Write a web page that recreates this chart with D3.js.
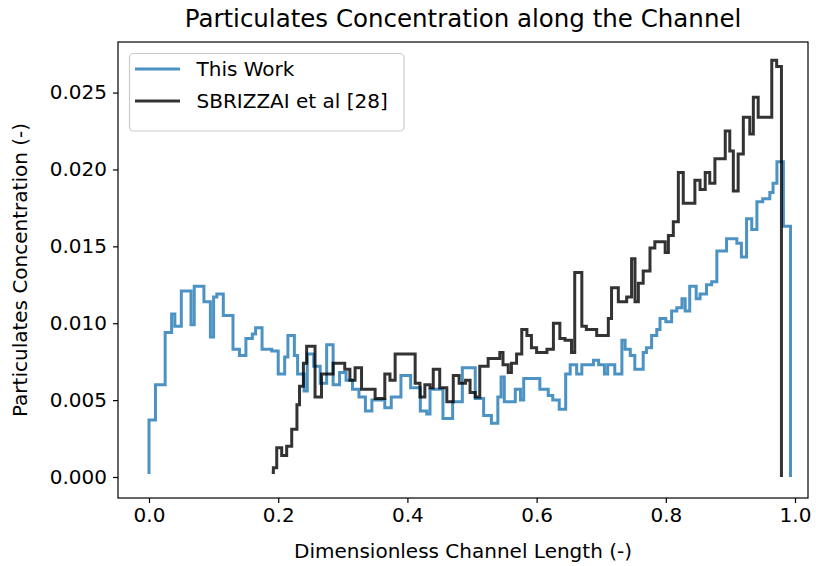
<!DOCTYPE html>
<html>
<head>
<meta charset="utf-8">
<script src="https://cdn.jsdelivr.net/npm/d3@7"></script>
<style>
  html, body { margin: 0; padding: 0; background: #fff; }
  svg text { font-family: "DejaVu Sans", sans-serif; fill: #000; }
</style>
</head>
<body>
<svg id="chart" width="816" height="566"></svg>
<script>
// Step profiles: each point starts a step that holds until the next x.
const thisWorkX = [0, 0, 0.010, 0.025, 0.035, 0.040, 0.050, 0.065, 0.070, 0.085, 0.095, 0.100, 0.105, 0.115,
  0.130, 0.140, 0.150, 0.160, 0.165, 0.175, 0.190, 0.200, 0.210, 0.215, 0.225, 0.230, 0.240, 0.245,
  0.255, 0.265, 0.275, 0.285, 0.295, 0.305, 0.315, 0.325, 0.335, 0.345, 0.365, 0.375, 0.390, 0.405,
  0.420, 0.430, 0.435, 0.455, 0.470, 0.485, 0.505, 0.518, 0.530, 0.540, 0.545, 0.550, 0.567, 0.575,
  0.580, 0.605, 0.618, 0.625, 0.635, 0.645, 0.652, 0.662, 0.670, 0.688, 0.696, 0.705, 0.710, 0.721,
  0.732, 0.737, 0.745, 0.752, 0.765, 0.770, 0.778, 0.786, 0.791, 0.800, 0.809, 0.817, 0.825, 0.830,
  0.837, 0.847, 0.853, 0.863, 0.871, 0.879, 0.894, 0.910, 0.917, 0.925, 0.933, 0.941, 0.950, 0.961,
  0.966, 0.972, 0.982, 0.993];
const thisWorkY = [0.0002, 0.0037, 0.0060, 0.0094, 0.0106, 0.0098, 0.0121, 0.0099, 0.0124, 0.0114, 0.0091, 0.0117, 0.0119, 0.0105,
  0.0083, 0.0079, 0.0090, 0.0093, 0.0097, 0.0083, 0.0082, 0.0067, 0.0078, 0.0092, 0.0079, 0.0067, 0.0056, 0.0080,
  0.0072, 0.0061, 0.0086, 0.0060, 0.0068, 0.0063, 0.0057, 0.0052, 0.0043, 0.0050, 0.0045, 0.0052, 0.0066, 0.0058,
  0.0043, 0.0041, 0.0057, 0.0038, 0.0049, 0.0071, 0.0051, 0.0040, 0.0035, 0.0052, 0.0065, 0.0049, 0.0057, 0.0050,
  0.0064, 0.0057, 0.0053, 0.0050, 0.0044, 0.0067, 0.0073, 0.0067, 0.0073, 0.0076, 0.0073, 0.0067, 0.0073, 0.0067,
  0.0089, 0.0083, 0.0079, 0.0070, 0.0081, 0.0084, 0.0092, 0.0096, 0.0103, 0.0101, 0.0108, 0.0110, 0.0116, 0.0108,
  0.0124, 0.0116, 0.0119, 0.0125, 0.0127, 0.0147, 0.0155, 0.0152, 0.0143, 0.0168, 0.0161, 0.0179, 0.0181, 0.0185,
  0.0191, 0.0205, 0.0163, 0.0000];

const sbrizzaiX = [0.190, 0.1925, 0.1977, 0.2054, 0.2131, 0.2209, 0.229, 0.233, 0.239, 0.244, 0.257, 0.267,
  0.285, 0.303, 0.311, 0.319, 0.329, 0.350, 0.365, 0.373, 0.381, 0.412, 0.4195, 0.427, 0.435, 0.440,
  0.450, 0.461, 0.471, 0.480, 0.490, 0.497, 0.505, 0.512, 0.525, 0.543, 0.548, 0.556, 0.561, 0.569,
  0.577, 0.585, 0.592, 0.600, 0.616, 0.626, 0.636, 0.644, 0.654, 0.659, 0.670, 0.677, 0.693, 0.711,
  0.716, 0.7265, 0.7394, 0.747, 0.7523, 0.7575, 0.765, 0.7755, 0.783, 0.799, 0.804, 0.8116, 0.8194,
  0.827, 0.845, 0.853, 0.861, 0.868, 0.876, 0.892, 0.899, 0.9045, 0.912, 0.920, 0.930, 0.9355, 0.943,
  0.964, 0.9716, 0.979];
const sbrizzaiY = [0.0003, 0.0006, 0.0019, 0.0014, 0.0020, 0.0031, 0.0047, 0.0059, 0.0074, 0.0085, 0.0052, 0.0067,
  0.0074, 0.0070, 0.0063, 0.0071, 0.0057, 0.0051, 0.0067, 0.0063, 0.0080, 0.0061, 0.0052, 0.0060, 0.0058, 0.0070,
  0.0058, 0.0049, 0.0066, 0.0061, 0.0063, 0.0055, 0.0052, 0.0072, 0.0077, 0.0081, 0.0073, 0.0068, 0.0074, 0.0080,
  0.0096, 0.0092, 0.0084, 0.0081, 0.0083, 0.0100, 0.0090, 0.0089, 0.0081, 0.0133, 0.0098, 0.0096, 0.0092, 0.0103,
  0.0123, 0.0114, 0.0117, 0.0142, 0.0114, 0.0126, 0.0134, 0.0149, 0.0153, 0.0146, 0.0157, 0.0166, 0.0198,
  0.0178, 0.0193, 0.0187, 0.0198, 0.0191, 0.0207, 0.0225, 0.0212, 0.0186, 0.0210, 0.0234, 0.0223, 0.0247, 0.0234,
  0.0271, 0.0267, 0.0000];

const seriesNames = ["This Work", "SBRIZZAI et al [28]"];
const seriesColors = ["#1f77b4", "#000000"];
const xTickValues = [0, 0.2, 0.4, 0.6, 0.8, 1.0];
const yTickValues = [0, 0.005, 0.010, 0.015, 0.020, 0.025];

const titleText = "Particulates Concentration along the Channel";
const xLabelText = "Dimensionless Channel Length (-)";
const yLabelText = "Particulates Concentration (-)";

// Axes box
const box = { left: 118, right: 808, top: 42, bottom: 498 };

const x = d3.scaleLinear().domain([-0.048, 1.0201]).range([box.left, box.right]);
const y = d3.scaleLinear().domain([-0.001366, 0.02829]).range([box.bottom, box.top]);

const svg = d3.select("#chart");

svg.append("defs").append("clipPath").attr("id", "plotClip")
  .append("rect")
  .attr("x", box.left).attr("y", box.top)
  .attr("width", box.right - box.left).attr("height", box.bottom - box.top);

const line = d3.line()
  .x(d => x(d[0]))
  .y(d => y(d[1]))
  .curve(d3.curveStepAfter);

const plot = svg.append("g").attr("clip-path", "url(#plotClip)");

const series = [
  d3.zip(thisWorkX, thisWorkY),
  d3.zip(sbrizzaiX, sbrizzaiY)
];

series.forEach((pts, i) => {
  plot.append("path")
    .datum(pts)
    .attr("d", line)
    .attr("fill", "none")
    .attr("stroke", seriesColors[i])
    .attr("stroke-opacity", 0.8)
    .attr("stroke-width", 3)
    .attr("stroke-linejoin", "miter")
    .attr("stroke-linecap", "butt");
});

// Axes
const xAxis = d3.axisBottom(x).tickValues(xTickValues).tickFormat(d3.format(".1f"))
  .tickSize(5).tickPadding(5);
const yAxis = d3.axisLeft(y).tickValues(yTickValues).tickFormat(d3.format(".3f"))
  .tickSize(5).tickPadding(6);

const gx = svg.append("g").attr("transform", `translate(0,${box.bottom})`).call(xAxis);
const gy = svg.append("g").attr("transform", `translate(${box.left},0)`).call(yAxis);

[gx, gy].forEach(g => {
  g.select(".domain").remove();
  g.selectAll(".tick line").attr("stroke", "#000").attr("stroke-width", 1.2);
  g.selectAll(".tick text").attr("font-size", 20).attr("fill", "#000")
    .style("font-family", "'DejaVu Sans', sans-serif");
});

// Frame
svg.append("rect")
  .attr("x", box.left).attr("y", box.top)
  .attr("width", box.right - box.left).attr("height", box.bottom - box.top)
  .attr("fill", "none").attr("stroke", "#000").attr("stroke-width", 1.2);

// Title and axis labels
svg.append("text")
  .attr("x", (box.left + box.right) / 2).attr("y", 27)
  .attr("text-anchor", "middle").attr("font-size", 24.5)
  .text(titleText);

svg.append("text")
  .attr("x", (box.left + box.right) / 2).attr("y", 558)
  .attr("text-anchor", "middle").attr("font-size", 20)
  .text(xLabelText);

svg.append("text")
  .attr("transform", `translate(27,${(box.top + box.bottom) / 2}) rotate(-90)`)
  .attr("text-anchor", "middle").attr("font-size", 20)
  .text(yLabelText);

// Legend
const legend = svg.append("g");
legend.append("rect")
  .attr("x", 129.5).attr("y", 53.5).attr("width", 274.5).attr("height", 77.5)
  .attr("rx", 4).attr("ry", 4)
  .attr("fill", "#fff").attr("fill-opacity", 0.8)
  .attr("stroke", "#cccccc").attr("stroke-width", 1.2);

seriesNames.forEach((name, i) => {
  const cy = 69 + i * 32;
  legend.append("line")
    .attr("x1", 135).attr("x2", 180).attr("y1", cy).attr("y2", cy)
    .attr("stroke", seriesColors[i]).attr("stroke-opacity", 0.8).attr("stroke-width", 3);
  legend.append("text")
    .attr("x", 196.5).attr("y", cy + 7.4).attr("font-size", 20)
    .text(name);
});
</script>
</body>
</html>
